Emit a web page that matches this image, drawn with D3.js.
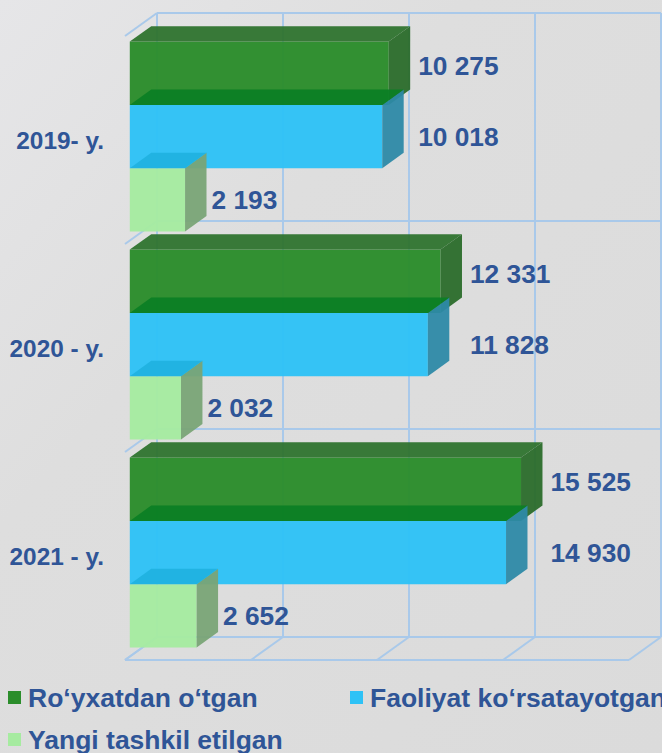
<!DOCTYPE html>
<html>
<head>
<meta charset="utf-8">
<script src="https://cdn.jsdelivr.net/npm/d3@7"></script>
<style>
  html, body { margin: 0; padding: 0; background: #dcdcdc; }
  svg { display: block; }
  text { font-family: "Liberation Sans", Arial, sans-serif; font-weight: bold; fill: #2f5597; }
</style>
</head>
<body>
<svg id="chart"></svg>
<script>
// Data
const years = ["2019- y.", "2020 - y.", "2021 - y."];
const seriesNames = ["Ro‘yxatdan o‘tgan", "Faoliyat ko‘rsatayotgan", "Yangi tashkil etilgan"];
const registered = [10275, 12331, 15525];
const active = [10018, 11828, 14930];
const created = [2193, 2032, 2652];
const xTicks = [0, 5000, 10000, 15000, 20000];

// Colours for each series: front, right side, top
const frontColors = ["#2b8d2b", "#2ec2f6", "#a6eba0"];
const sideColors = ["#2a6b2a", "#2d89a7", "#79a476"];
const topColors = ["#2e732e", "#0a7f24", "#1fb2df"];

const W = 662, H = 753;
const DX = 32, DY = 23;          // depth of the 3D box
const zFront = 0.15, zBack = 0.82; // depth of the bars inside the box

const svg = d3.select("#chart").attr("width", W).attr("height", H);

// Background
const defs = svg.append("defs");
const bg = defs.append("linearGradient").attr("id", "bg")
  .attr("x1", 0).attr("y1", 0).attr("x2", 1).attr("y2", 1);
bg.append("stop").attr("offset", 0).attr("stop-color", "#e6e6e8");
bg.append("stop").attr("offset", 0.35).attr("stop-color", "#dedede");
bg.append("stop").attr("offset", 1).attr("stop-color", "#dbdbdb");
svg.append("rect").attr("width", W).attr("height", H).attr("fill", "url(#bg)");

// Scales (front plane)
const x = d3.scaleLinear().domain([0, 20000]).range([125, 629]);
const y = d3.scaleBand().domain(years).range([13, 637]).paddingInner(0.087).paddingOuter(0.0435);
const ySub = d3.scaleBand().domain(d3.range(3)).range([0, y.bandwidth()]);

// project value v, back-wall y yb, depth z
const px = (v, z) => x(v) + z * DX;
const py = (yb, z) => yb + (1 - z) * DY;

// Grid
const grid = svg.append("g").attr("stroke", "#a9c9ea").attr("stroke-width", 2).attr("fill", "none");
const yTop = 13, yBot = 637;
const wallLines = [yTop].concat(years.slice(1).map(d => y(d) - y.step() * y.paddingInner() / 2)).concat([yBot]);
// back wall verticals
grid.selectAll(".v").data(xTicks).enter().append("line")
  .attr("x1", d => px(d, 1)).attr("x2", d => px(d, 1))
  .attr("y1", yTop).attr("y2", yBot);
// back wall horizontals
grid.selectAll(".h").data(wallLines.slice(0, -1)).enter().append("line")
  .attr("x1", px(0, 1)).attr("x2", px(20000, 1))
  .attr("y1", d => d).attr("y2", d => d);
// side wall diagonals
grid.selectAll(".s").data(wallLines).enter().append("line")
  .attr("x1", px(0, 0)).attr("y1", d => py(d, 0))
  .attr("x2", px(0, 1)).attr("y2", d => py(d, 1));
// floor
grid.append("line").attr("x1", px(0, 1)).attr("x2", px(20000, 1)).attr("y1", yBot).attr("y2", yBot);
grid.append("line").attr("x1", px(0, 0)).attr("x2", px(20000, 0)).attr("y1", py(yBot, 0)).attr("y2", py(yBot, 0));
grid.selectAll(".f").data(xTicks).enter().append("line")
  .attr("x1", d => px(d, 0)).attr("y1", py(yBot, 0))
  .attr("x2", d => px(d, 1)).attr("y2", yBot);

// Bars
const values = [registered, active, created];
const bars = svg.append("g");
years.forEach((yr, ci) => {
  values.forEach((vals, si) => {
    const v = vals[ci];
    const t = y(yr) + ySub(si), b = t + ySub.bandwidth();
    const g = bars.append("g");
    g.append("polygon")
      .attr("points", [[px(0, zFront), py(t, zFront)], [px(v, zFront), py(t, zFront)],
                       [px(v, zFront), py(b, zFront)], [px(0, zFront), py(b, zFront)]].join(" "))
      .attr("fill", frontColors[si]).attr("fill-opacity", 0.96);
    g.append("polygon")
      .attr("points", [[px(v, zFront), py(t, zFront)], [px(v, zBack), py(t, zBack)],
                       [px(v, zBack), py(b, zBack)], [px(v, zFront), py(b, zFront)]].join(" "))
      .attr("fill", sideColors[si]).attr("fill-opacity", 0.95);
    g.append("polygon")
      .attr("points", [[px(0, zFront), py(t, zFront)], [px(v, zFront), py(t, zFront)],
                       [px(v, zBack), py(t, zBack)], [px(0, zBack), py(t, zBack)]].join(" "))
      .attr("fill", topColors[si]).attr("fill-opacity", si === 0 ? 0.95 : 0.92);
  });
});

// Value labels
const fmt = v => d3.format(",")(v).replace(/,/g, " ");
years.forEach((yr, ci) => {
  values.forEach((vals, si) => {
    const v = vals[ci];
    const t = y(yr) + ySub(si), b = t + ySub.bandwidth();
    const ref = si < 2 ? Math.max(registered[ci], active[ci]) : v;
    const gap = si < 2 ? 8 : 5;
    svg.append("text")
      .attr("x", px(ref, zBack) + gap)
      .attr("y", py((t + b) / 2, zFront) - (si === 0 ? 7 : 0))
      .attr("dy", "0.35em")
      .style("font-size", "26.3px")
      .text(fmt(v));
  });
});

// Category labels
svg.selectAll(".cat").data(years).enter().append("text")
  .attr("x", 104)
  .attr("y", d => py(y(d) + y.bandwidth() / 2, zFront) + 4)
  .attr("dy", "0.35em")
  .attr("text-anchor", "end")
  .style("font-size", "24.4px")
  .text(d => d);

// Legend
const legendPos = [[8, 691], [350, 691], [8, 733]];
const legend = svg.append("g");
seriesNames.forEach((name, i) => {
  const [lx, ly] = legendPos[i];
  legend.append("rect").attr("x", lx).attr("y", ly).attr("width", 13).attr("height", 13)
    .attr("fill", frontColors[i]);
  legend.append("text").attr("x", lx + 20).attr("y", ly + 6.5).attr("dy", "0.36em")
    .style("font-size", "26.5px").text(name);
});
</script>
</body>
</html>
